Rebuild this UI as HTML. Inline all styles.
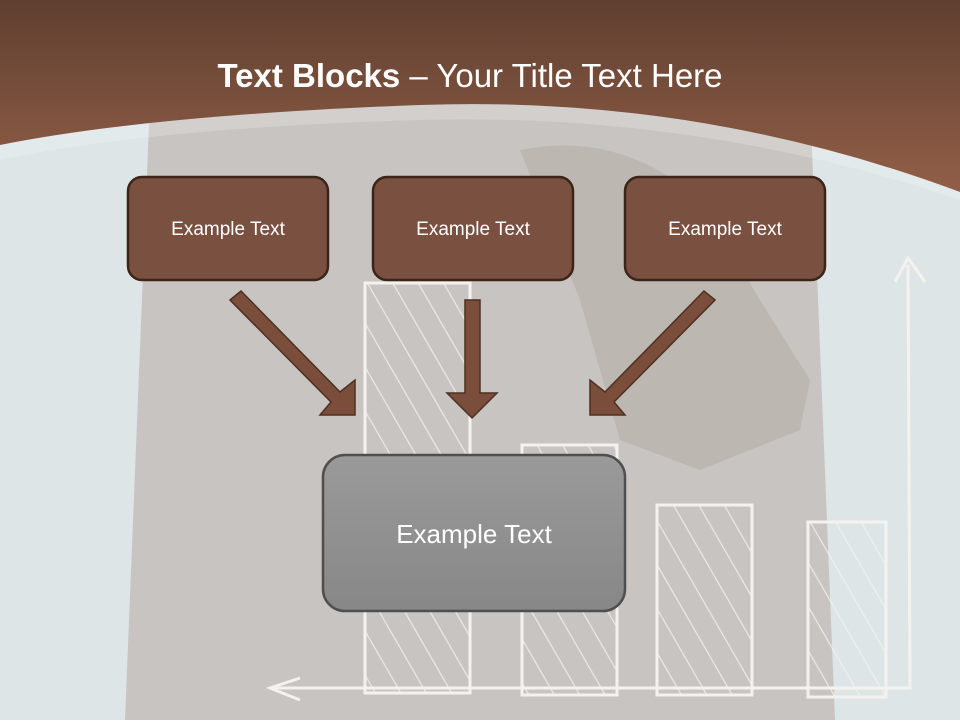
<!DOCTYPE html>
<html><head><style>body{margin:0;width:960px;height:720px;overflow:hidden}</style></head><body>
<svg width="960" height="720" viewBox="0 0 960 720" xmlns="http://www.w3.org/2000/svg" font-family="Liberation Sans, sans-serif">
<defs>
<linearGradient id="hd" x1="0" y1="0" x2="0" y2="1"><stop offset="0" stop-color="#5f3f30"/><stop offset="1" stop-color="#925f48"/></linearGradient>
<linearGradient id="bx" x1="0" y1="0" x2="0" y2="1"><stop offset="0" stop-color="#9a9a9a"/><stop offset="1" stop-color="#878787"/></linearGradient>
<pattern id="hatch" width="22" height="30" patternUnits="userSpaceOnUse" patternTransform="rotate(-30)"><line x1="0" y1="0" x2="0" y2="30" stroke="#f4f2ee" stroke-width="2.5"/></pattern>
</defs>
<rect width="960" height="720" fill="#dde5e7"/>
<path d="M150 100 L810 100 L835 720 L125 720 Z" fill="#c7c4c1"/>
<path d="M520 150 Q620 130 700 200 L760 300 L810 380 L800 430 L700 470 L620 440 L580 300 Z" fill="#bdb7b2"/>
<g stroke="#f4f2ee" stroke-width="3">
<rect x="365" y="283" width="105" height="410" fill="url(#hatch)" fill-opacity="0.8"/>
<rect x="522" y="445" width="95" height="250" fill="url(#hatch)" fill-opacity="0.8"/>
<rect x="657" y="505" width="95" height="190" fill="url(#hatch)" fill-opacity="0.8"/>
<rect x="808" y="522" width="78" height="175" fill="url(#hatch)" fill-opacity="0.8"/>
</g>
<g stroke="#f4f2ee" stroke-width="3" fill="none">
<path d="M270 688 L910 688 L908 265"/><path d="M895 282 L908 258 L925 282"/><path d="M300 678 L270 688 L300 700"/>
</g>
<path d="M0 0 H960 V192 Q700 95 420 105 Q150 115 0 145 Z" fill="url(#hd)"/>
<path d="M0 145 Q150 115 420 105 Q700 95 960 192 V200 Q700 112 420 120 Q150 128 0 160 Z" fill="#ffffff" opacity="0.2"/>
<text x="470" y="87" text-anchor="middle" fill="#fff" font-size="33"><tspan font-weight="bold">Text Blocks</tspan> – Your Title Text Here</text>
<g fill="#7a5040" stroke="#3b2519" stroke-width="2.5">
<rect x="128" y="177" width="200" height="103" rx="14"/>
<rect x="373" y="177" width="200" height="103" rx="14"/>
<rect x="625" y="177" width="200" height="103" rx="14"/>
</g>
<g fill="#fff" font-size="19" text-anchor="middle">
<text x="228" y="235">Example Text</text><text x="473" y="235">Example Text</text><text x="725" y="235">Example Text</text>
</g>
<g fill="#7a4e3b" stroke="#4d3023" stroke-width="1.5">
<polygon points="230,300 241,291 340,392 355,380 355,415 320,415 331,402"/>
<polygon points="465,300 480,300 480,393 497,393 472,418 447,393 465,393"/>
<polygon points="715,300 704,291 605,392 590,380 590,415 625,415 614,402"/>
</g>
<rect x="323" y="455" width="302" height="156" rx="22" fill="url(#bx)" stroke="#4f4f4f" stroke-width="2.5"/>
<text x="474" y="543" text-anchor="middle" fill="#fff" font-size="26">Example Text</text>
</svg>
</body></html>
